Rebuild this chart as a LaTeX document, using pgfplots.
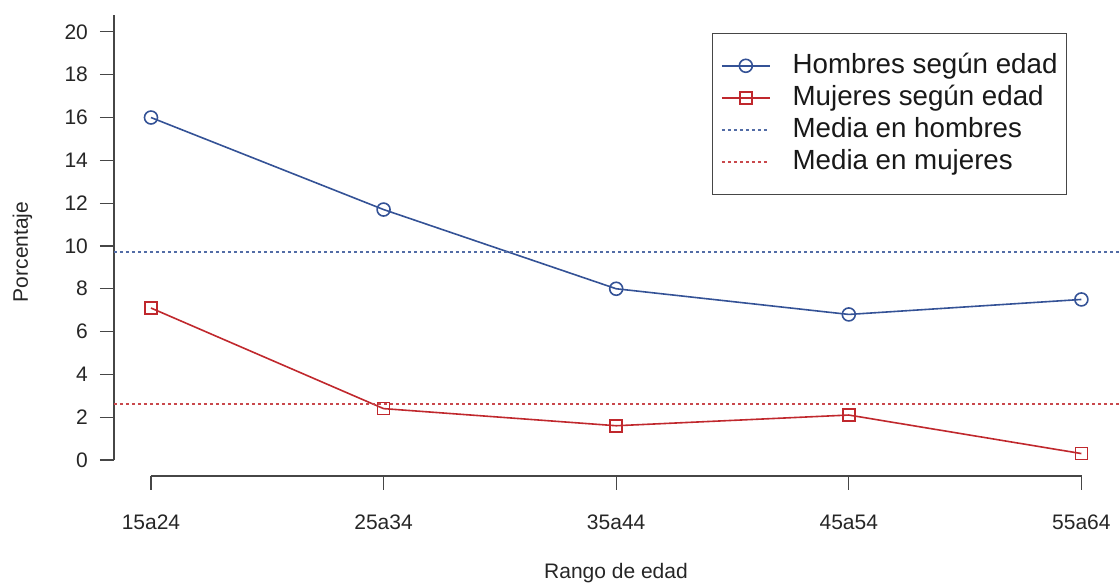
\documentclass[border=0pt]{standalone}
\usepackage{pgfplots}
\pgfplotsset{compat=1.18}
\usepackage{fontspec}
\setmainfont{Liberation Sans}
\definecolor{hblue}{RGB}{52,82,150}
\definecolor{mred}{RGB}{192,40,45}
\definecolor{axgray}{RGB}{70,70,70}
\begin{document}
\begin{tikzpicture}
\useasboundingbox (-57pt,-53.5pt) rectangle (503pt,238pt);
\begin{axis}[
  at={(0,0)}, anchor=south west,
  scale only axis, width=503pt, height=230.5pt,
  xmin=0.841, xmax=5.166, ymin=-0.748, ymax=20.79,
  axis lines*=left,
  axis line style={-, axgray, line width=0.6pt},
  x axis line style={shorten <=18.5pt, shorten >=19.25pt},
  y axis line style={shorten <=8pt},
  xtick={1,2,3,4,5}, xticklabels={15a24,25a34,35a44,45a54,55a64},
  ytick={0,2,...,20},
  tick align=outside, major tick length=7pt,
  tick style={axgray, line width=0.6pt},
  /pgf/number format/assume math mode=true,
  ticklabel style={font=\fontsize{10.5}{12}\selectfont, text=black!85},
  xticklabel style={yshift=-9pt},
  yticklabel style={xshift=-2.5pt},
  xlabel={Rango de edad},
  xlabel style={at={(axis description cs:0.499,-0.2234)}, anchor=base, font=\fontsize{10.5}{12}\selectfont, text=black!85},
  ylabel={Porcentaje},
  ylabel style={at={(axis description cs:-0.0855,0.486)}, anchor=base, font=\fontsize{10.5}{12}\selectfont, text=black!85},
  legend cell align=left,
  legend style={at={(axis description cs:0.947,0.9616)}, anchor=north east,
    draw=axgray, font=\fontsize{13.85}{16}\selectfont, text=black!90,
    inner xsep=4.4pt, inner ysep=9.6pt, row sep=2.5pt,
    nodes={inner sep=0pt, text height=10.5pt, text depth=3pt},
    /tikz/every odd column/.append style={column sep=11pt}},
  legend image code/.code={\draw[mark repeat=2,mark phase=2,#1] plot coordinates {(0pt,0pt) (12pt,0pt) (24pt,0pt)};},
]
\addplot[hblue, line width=0.8pt, mark=o, mark size=3.25pt] coordinates {(1,16.0) (2,11.7) (3,8.0) (4,6.8) (5,7.5)};
\addlegendentry{Hombres según edad}
\addplot[mred, line width=0.8pt, mark=square, mark size=3pt] coordinates {(1,7.1) (2,2.4) (3,1.6) (4,2.1) (5,0.3)};
\addlegendentry{Mujeres según edad}
\addplot[hblue!85, line width=0.75pt, dash pattern=on 1.5pt off 1.5pt] coordinates {(0.841,9.72) (5.166,9.72)};
\addlegendentry{Media en hombres}
\addplot[mred!85, line width=0.75pt, dash pattern=on 1.5pt off 1.5pt] coordinates {(0.841,2.62) (5.166,2.62)};
\addlegendentry{Media en mujeres}
\end{axis}
\end{tikzpicture}
\end{document}
